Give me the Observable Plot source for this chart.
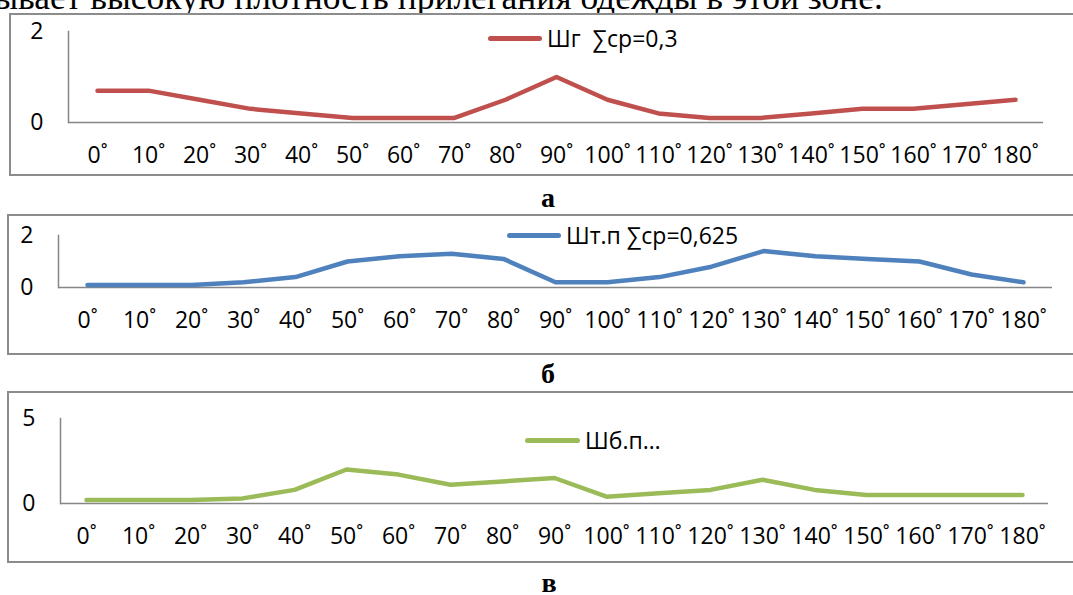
<!DOCTYPE html>
<html><head><meta charset="utf-8">
<script src="https://cdn.jsdelivr.net/npm/d3@7"></script>
<script src="https://cdn.jsdelivr.net/npm/@observablehq/plot@0.6"></script>
<style>
html,body{margin:0;padding:0;background:#fff;}
body{width:1073px;height:595px;overflow:hidden;position:relative;font-family:"Open Sans",sans-serif;}
.panel{position:absolute;width:1120px;border:2px solid #8c8c8c;box-sizing:border-box;}
.plot{position:absolute;left:0;}
.cap{position:absolute;font-family:"Liberation Serif",serif;font-weight:bold;font-size:28px;line-height:20px;transform:translate(-50%,-50%);}
.leg{position:absolute;display:flex;align-items:center;font-size:23px;white-space:nowrap;color:#000;transform:translateY(-50%);}
.leg .sw{display:inline-block;height:5px;border-radius:3px;margin-right:5px;}
#topline{position:absolute;left:0;top:0;overflow:hidden;}
</style></head><body>
<svg id="topline" width="1073" height="13"><text id="toptext" x="883" y="9" text-anchor="end" font-family="Liberation Serif" font-size="35.5">ывает высокую плотность прилегания одежды в этой зоне.</text></svg>
<script>
// ---- data ----
const angles = ["0˚","10˚","20˚","30˚","40˚","50˚","60˚","70˚","80˚","90˚","100˚","110˚","120˚","130˚","140˚","150˚","160˚","170˚","180˚"];
const shgValues  = [0.7,0.7,0.5,0.3,0.2,0.1,0.1,0.1,0.5,1.0,0.5,0.2,0.1,0.1,0.2,0.3,0.3,0.4,0.5];
const shtpValues = [0.1,0.1,0.1,0.2,0.4,1.0,1.2,1.3,1.1,0.2,0.2,0.4,0.8,1.4,1.2,1.1,1.0,0.5,0.2];
const shbpValues = [0.2,0.2,0.2,0.3,0.8,2.0,1.7,1.1,1.3,1.5,0.4,0.6,0.8,1.4,0.8,0.5,0.5,0.5,0.5];
const seriesNames = ["Шг  ∑ср=0,3", "Шт.п ∑ср=0,625", "Шб.п…"];
const yTicks = [[0,2],[0,2],[0,5]];
const panelLabels = ["а","б","в"];

// ---- layout / style ----
const colors = ["#C0504D","#4F81BD","#9BBB59"];
const layout = [
  {box:{left:9,top:13,height:163}, svgTop:14, h:161, ml:68, mr:30, mt:17, mb:53, leg:{x:488,y:38,w:54}, cap:{x:548,y:198}},
  {box:{left:7,top:214,height:141}, svgTop:215, h:139, ml:58, mr:21, mt:20, mb:67, leg:{x:507,y:235,w:54}, cap:{x:548,y:374}},
  {box:{left:7,top:391,height:172}, svgTop:392, h:170, ml:60, mr:25, mt:26, mb:59, leg:{x:525,y:440,w:55}, cap:{x:549,y:583}}
];
const seriesValues = [shgValues, shtpValues, shbpValues];

layout.forEach((L, i) => {
  const box = document.createElement("div");
  box.className = "panel";
  box.style.left = L.box.left + "px";
  box.style.top = L.box.top + "px";
  box.style.height = L.box.height + "px";
  document.body.appendChild(box);

  const data = angles.map((a, j) => ({angle: a, value: seriesValues[i][j]}));
  const yMax = yTicks[i][yTicks[i].length - 1];
  const chart = Plot.plot({
    width: 1073, height: L.h,
    marginLeft: L.ml, marginRight: L.mr, marginTop: L.mt, marginBottom: L.mb,
    style: {fontFamily: "'Open Sans', sans-serif", fontSize: "23px", color: "#000", background: "transparent", overflow: "visible"},
    x: {type: "point", domain: angles, padding: 0.5},
    y: {domain: [0, yMax]},
    marks: [
      Plot.axisX({tickSize: 0, tickPadding: 24, fontSize: 23, label: null}),
      Plot.axisY({ticks: yTicks[i], tickSize: 0, tickPadding: 25, fontSize: 23, label: null, tickFormat: d => String(d)}),
      Plot.ruleY([0], {stroke: "#868686", strokeWidth: 1.5}),
      Plot.frame({anchor: "left", stroke: "#868686", strokeWidth: 1.5}),
      Plot.line(data, {x: "angle", y: "value", stroke: colors[i], strokeWidth: 4.5, strokeLinecap: "round", strokeLinejoin: "round"})
    ]
  });
  chart.classList.add("plot");
  chart.style.top = L.svgTop + "px";
  document.body.appendChild(chart);

  const leg = document.createElement("div");
  leg.className = "leg";
  leg.style.left = L.leg.x + "px";
  leg.style.top = L.leg.y + "px";
  const sw = document.createElement("span");
  sw.className = "sw";
  sw.style.width = L.leg.w + "px";
  sw.style.background = colors[i];
  const tx = document.createElement("span");
  tx.textContent = seriesNames[i];
  tx.style.whiteSpace = "pre";
  leg.appendChild(sw); leg.appendChild(tx);
  document.body.appendChild(leg);

  const cap = document.createElement("div");
  cap.className = "cap";
  cap.style.left = L.cap.x + "px";
  cap.style.top = L.cap.y + "px";
  cap.textContent = panelLabels[i];
  document.body.appendChild(cap);
});
</script>
</body></html>
